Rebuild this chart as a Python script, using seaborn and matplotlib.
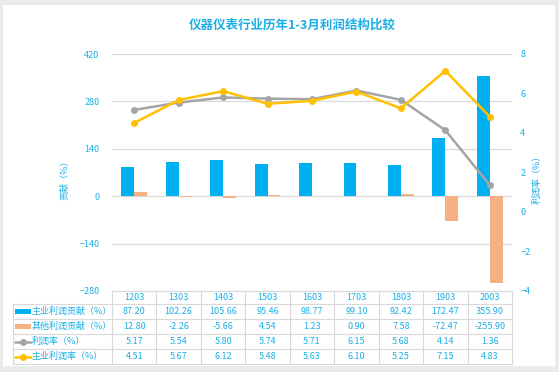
import numpy as np
import pandas as pd
import matplotlib
matplotlib.use("Agg")
import matplotlib.pyplot as plt
import seaborn as sns
from matplotlib.patches import Rectangle
from matplotlib.lines import Line2D

# data
years = ['1203', '1303', '1403', '1503', '1603', '1703', '1803', '1903', '2003']
main_contrib = [87.20, 102.26, 105.66, 95.46, 98.77, 99.10, 92.42, 172.47, 355.90]
other_contrib = [12.80, -2.26, -5.66, 4.54, 1.23, 0.90, 7.58, -72.47, -255.90]
profit_rate = [5.17, 5.54, 5.80, 5.74, 5.71, 6.15, 5.68, 4.14, 1.36]
main_rate = [4.51, 5.67, 6.12, 5.48, 5.63, 6.10, 5.25, 7.15, 4.83]
series_names = ['主业利润贡献（%）', '其他利润贡献（%）', '利润率（%）', '主业利润率（%）']

BLUE = '#00B0F0'
ORANGE = '#F4B183'
GRAY = '#A5A5A5'
YELLOW = '#FFC000'
TXT = '#1AAFE6'
GRID = '#D9D9D9'

sns.set_theme(style='white')
plt.rcParams['font.family'] = ['Noto Sans CJK SC', 'DejaVu Sans']

W, H = 559, 372
fig = plt.figure(figsize=(W / 100, H / 100), dpi=100, facecolor='#EBEBEB')


def fx(px):
    return px / W


def fy(py):
    return 1 - py / H


# white panel
fig.patches.append(Rectangle((fx(3), fy(366)), fx(555) - fx(3), fy(5) - fy(366),
                             transform=fig.transFigure, facecolor='white',
                             edgecolor='none', zorder=-5))

left, right, top, bottom = 112, 512, 54, 291
ax = fig.add_axes([fx(left), fy(bottom), fx(right) - fx(left), fy(top) - fy(bottom)])
ax.set_facecolor('none')

df = pd.DataFrame({
    'year': years * 2,
    'series': [series_names[0]] * len(years) + [series_names[1]] * len(years),
    'value': main_contrib + other_contrib,
})
sns.barplot(data=df, x='year', y='value', hue='series', palette=[BLUE, ORANGE],
            saturation=1, width=0.58, ax=ax, legend=False, linewidth=0,
            zorder=3)
ax.set_ylim(-280, 420)
ax.set_yticks(np.arange(-280, 421, 140))
ax.set_xlim(-0.5, len(years) - 0.5)
ax.set_xticks([])
ax.set_xlabel('')
ax.set_ylabel('')
ax.grid(axis='y', color=GRID, linewidth=0.9, zorder=0)
ax.set_axisbelow(True)
for s in ax.spines.values():
    s.set_visible(False)
ax.tick_params(axis='y', length=0, pad=9, labelsize=6.5, labelcolor=TXT)

ax2 = ax.twinx()
x = np.arange(len(years))
sns.lineplot(x=x, y=profit_rate, color=GRAY, marker='o', markersize=5,
             markeredgewidth=0, linewidth=1.8, ax=ax2)
sns.lineplot(x=x, y=main_rate, color=YELLOW, marker='o', markersize=5,
             markeredgewidth=0, linewidth=1.8, ax=ax2)
ax2.set_ylim(-4, 8)
ax2.set_yticks(np.arange(-4, 9, 2))
ax2.set_xlim(-0.5, len(years) - 0.5)
ax2.grid(False)
for s in ax2.spines.values():
    s.set_visible(False)
ax2.tick_params(axis='y', length=0, pad=6, labelsize=6.5, labelcolor=TXT)

fig.text(fx(65), fy(178), '贡献（%）', rotation=90, ha='center', va='center',
         color=TXT, fontsize=6.5)
fig.text(fx(537), fy(177), '利润率（%）', rotation=90, ha='center', va='center',
         color=TXT, fontsize=6.5)
fig.text(fx(292), fy(25), '仪器仪表行业历年1-3月利润结构比较', ha='center',
         va='center', color=TXT, fontsize=9, fontweight='bold')

# data table under the chart
col_w = (right - left) / len(years)
row_y = [291, 304, 319, 334, 349, 364]
leg_x = 13


def hline(y, x0, x1):
    fig.add_artist(Line2D([fx(x0), fx(x1)], [fy(y), fy(y)], color=GRID, lw=0.8))


def vline(xp, y0, y1):
    fig.add_artist(Line2D([fx(xp), fx(xp)], [fy(y0), fy(y1)], color=GRID, lw=0.8))


hline(row_y[0], left, right)
for y in row_y[1:]:
    hline(y, leg_x, right)
vline(leg_x, row_y[1], row_y[-1])
for i in range(len(years) + 1):
    vline(left + i * col_w, row_y[0], row_y[-1])

table_rows = [main_contrib, other_contrib, profit_rate, main_rate]
for i, yr in enumerate(years):
    cx = left + (i + 0.5) * col_w
    fig.text(fx(cx), fy((row_y[0] + row_y[1]) / 2), yr, ha='center', va='center',
             color=TXT, fontsize=6.5)
    for r, vals in enumerate(table_rows):
        cy = (row_y[r + 1] + row_y[r + 2]) / 2
        fig.text(fx(cx), fy(cy), f'{vals[i]:.2f}', ha='center', va='center',
                 color=TXT, fontsize=6.5)

handle_colors = [BLUE, ORANGE, GRAY, YELLOW]
for r, name in enumerate(series_names):
    cy = (row_y[r + 1] + row_y[r + 2]) / 2
    c = handle_colors[r]
    if r < 2:
        fig.patches.append(Rectangle((fx(15), fy(cy + 2.5)), fx(31) - fx(15),
                                     fy(cy - 2.5) - fy(cy + 2.5),
                                     transform=fig.transFigure, facecolor=c,
                                     edgecolor='none'))
    else:
        fig.add_artist(Line2D([fx(15), fx(31)], [fy(cy), fy(cy)], color=c, lw=1.8))
        fig.add_artist(Line2D([fx(23)], [fy(cy)], color=c, marker='o',
                              markersize=5, markeredgewidth=0))
    fig.text(fx(32), fy(cy), name, ha='left', va='center', color=TXT, fontsize=6.5)

fig.savefig('out.png', dpi=100, facecolor=fig.get_facecolor())
